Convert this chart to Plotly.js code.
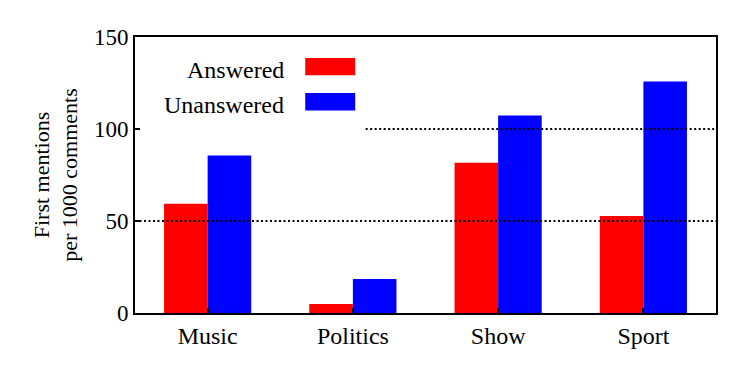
<!DOCTYPE html>
<html>
<head>
<meta charset="utf-8">
<script src="https://cdn.plot.ly/plotly-3.0.1.min.js"></script>
<style>
  html, body { margin: 0; padding: 0; background: white; }
  #chart { width: 747px; height: 374px; }
</style>
</head>
<body>
<div id="chart"></div>
<script>
// values
const categories = ['Music', 'Politics', 'Show', 'Sport'];
const answered = [59.4, 4.9, 81.7, 52.7];
const unanswered = [85.6, 18.5, 107.4, 125.8];
const seriesNames = ['Answered', 'Unanswered'];
const seriesColors = ['#ff0000', '#0000ff'];
const yTicks = [0, 50, 100, 150];

const font = '"Liberation Serif", "DejaVu Serif", serif';

const traces = [answered, unanswered].map((vals, i) => ({
    x: categories,
    y: vals,
    type: 'bar',
    name: seriesNames[i],
    marker: { color: seriesColors[i], line: { width: 0 } },
    hoverinfo: 'x+y'
}));

// dotted grid drawn over the bars, the 100 line is cut by the legend box
const gridShapes = [
    { y: 50, x0: 0, x1: 1 },
    { y: 100, x0: 0.397, x1: 1 }
].map(g => ({
    type: 'line', xref: 'paper', yref: 'y',
    x0: g.x0, x1: g.x1, y0: g.y, y1: g.y,
    line: { color: 'black', width: 2, dash: '2px,2.5px' },
    layer: 'above'
}));

// legend drawn by hand: text on the left, swatch on the right
const legendShapes = seriesColors.map((c, i) => ({
    type: 'rect', xref: 'paper', yref: 'paper',
    x0: 0.293, x1: 0.379,
    y0: 0.861 - i * 0.127, y1: 0.924 - i * 0.127,
    fillcolor: c, line: { width: 0 }, layer: 'above'
}));
const legendNotes = seriesNames.map((n, i) => ({
    xref: 'paper', yref: 'paper',
    x: 0.26, y: 0.882 - i * 0.127,
    xanchor: 'right', yanchor: 'middle',
    text: n, showarrow: false,
    font: { family: font, size: 24, color: 'black' }
}));

const layout = {
    width: 747,
    height: 374,
    margin: { l: 135, r: 31, t: 37, b: 61 },
    paper_bgcolor: 'white',
    plot_bgcolor: 'white',
    font: { family: font, size: 23, color: 'black' },
    showlegend: false,
    barmode: 'group',
    bargap: 0.4,
    bargroupgap: 0,
    xaxis: {
        type: 'category',
        range: [-0.5, 3.5],
        showgrid: false,
        showline: true,
        mirror: true,
        linecolor: 'black',
        linewidth: 2,
        ticks: 'inside',
        ticklen: 5,
        tickwidth: 2,
        tickcolor: 'black',
        tickfont: { family: font, size: 24 },
        zeroline: false
    },
    yaxis: {
        range: [0, 150],
        tickvals: yTicks,
        showgrid: false,
        showline: true,
        mirror: true,
        linecolor: 'black',
        linewidth: 2,
        ticks: 'inside',
        ticklen: 5,
        tickwidth: 2,
        tickcolor: 'black',
        tickfont: { family: font, size: 23 },
        zeroline: false,
        title: {
            text: 'First mentions<br>per 1000 comments',
            font: { family: font, size: 22 },
            standoff: 10
        }
    },
    shapes: gridShapes.concat(legendShapes),
    annotations: legendNotes
};

Plotly.newPlot('chart', traces, layout, { displayModeBar: false, staticPlot: true });
</script>
</body>
</html>
